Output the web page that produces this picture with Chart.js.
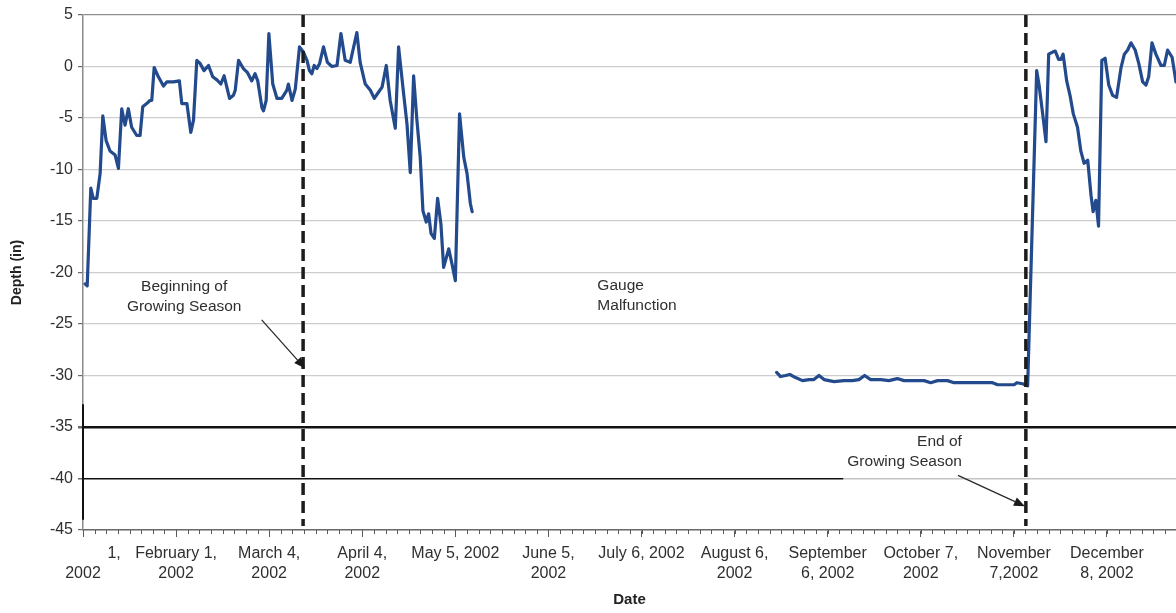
<!DOCTYPE html>
<html>
<head>
<meta charset="utf-8">
<script src="https://cdn.jsdelivr.net/npm/chart.js@4/dist/chart.umd.min.js"></script>
<style>
  html, body { margin: 0; padding: 0; background: #fff; }
  canvas { display: block; }
</style>
</head>
<body>
<canvas id="chart" width="1176" height="613"></canvas>
<script>
// Water-table depth record for 2002. Days are counted from January 1, 2002 (day 0).
const dayOfYear = [
  0.7, 1.4, 2.6, 3.4, 4.6, 5.7, 6.6, 7.7, 9.0, 10.7, 11.8, 12.9, 14.0, 15.1, 16.2, 17.9, 19.0,
  19.9, 21.2, 22.3, 22.9, 23.7, 25.1, 26.8, 27.9, 30.1, 32.1, 32.9, 34.6, 35.9, 36.8, 37.9, 39.0,
  40.3, 41.8, 43.2, 44.6, 45.9, 47.0, 48.8, 50.1, 50.7, 51.8, 53.4, 54.8, 56.2, 57.3, 58.2, 59.6,
  60.1, 61.0, 61.9, 63.2, 64.6, 66.2, 67.9, 68.4, 69.6, 70.7, 72.1, 73.4, 74.6, 75.4, 76.2, 77.0,
  77.9, 78.8, 80.1, 81.4, 82.9, 84.6, 85.9, 87.3, 89.0, 91.2, 92.3, 94.0, 95.7, 97.0, 98.4, 99.6,
  101.0, 102.3, 104.0, 105.1, 106.8, 107.9, 109.0, 110.1, 111.2, 112.3, 113.2, 114.3, 115.1, 115.9,
  117.0, 118.1, 119.2, 120.1, 121.8, 122.9, 124.0, 125.4, 126.8, 127.9, 129.0, 129.6,
  180,
  231.0, 232.3, 234.0, 235.4, 237.3, 239.6, 241.8, 243.4, 245.1, 246.8, 250.1, 253.4, 256.2, 258.4,
  260.3, 262.3, 265.7, 268.4, 271.2, 273.4, 276.8, 280.1, 282.3, 284.6, 287.9, 290.1, 296.8, 302.9,
  304.6, 310.1, 311.0, 312.9, 314.6, 317.6, 318.4, 319.6, 320.7, 321.6, 322.9, 323.8, 324.9, 325.7,
  326.4, 327.6, 328.7, 329.8, 331.2, 332.3, 333.4, 334.6, 335.7, 336.4, 337.3, 338.2, 339.3, 340.4,
  341.6, 342.9, 344.2, 345.7, 346.8, 347.9, 349.0, 350.4, 351.6, 352.9, 354.0, 354.9, 356.0, 357.3,
  359.0, 360.1, 361.2, 362.7, 364.0
];
const depthIn = [
  -21.1, -21.3, -11.8, -12.8, -12.8, -10.4, -4.8, -7.2, -8.2, -8.6, -9.9, -4.1, -5.7, -4.1, -5.9, -6.7, -6.7,
  -3.9, -3.6, -3.3, -3.3, -0.1, -1.0, -1.9, -1.5, -1.5, -1.4, -3.6, -3.6, -6.4, -5.2, 0.6, 0.3,
  -0.4, 0.1, -1.0, -1.3, -1.7, -0.9, -3.1, -2.8, -2.3, 0.6, -0.2, -0.6, -1.4, -0.7, -1.4, -4.0,
  -4.3, -3.3, 3.2, -1.7, -3.1, -3.1, -2.3, -1.7, -3.3, -2.2, 1.9, 1.4, 0.6, -0.4, -0.7, 0.1,
  -0.2, 0.3, 1.9, 0.4, 0.0, 0.1, 3.2, 0.6, 0.4, 3.3, 0.4, -1.7, -2.3, -3.1, -2.5, -2.0,
  0.1, -3.3, -6.0, 1.9, -2.7, -5.6, -10.3, -0.9, -5.2, -8.8, -14.0, -15.1, -14.3, -16.2,
  -16.7, -12.8, -15.3, -19.5, -17.7, -19.2, -20.8, -4.6, -8.8, -10.4, -13.3, -14.1,
  null,
  -29.7, -30.1, -30.0, -29.9, -30.2, -30.5, -30.4, -30.4, -30.0, -30.4, -30.6, -30.5, -30.5, -30.4,
  -30.0, -30.4, -30.4, -30.5, -30.3, -30.5, -30.5, -30.5, -30.7, -30.5, -30.5, -30.7, -30.7, -30.7,
  -30.9, -30.9, -30.7, -30.8, -31.0, -0.4, -1.8, -4.6, -7.3, 1.2, 1.4, 1.5, 0.7, 0.7,
  1.2, -1.4, -2.8, -4.6, -5.9, -8.2, -9.4, -9.1, -12.5, -14.1, -13.0, -15.5, 0.6, 0.8,
  -1.8, -2.8, -3.0, -0.1, 1.2, 1.6, 2.3, 1.6, 0.3, -1.5, -1.8, -1.0, 2.3, 1.2,
  0.1, 0.1, 1.6, 0.9, -1.5
];

// Labelled date ticks, one every 31 days
const tickDays = [0, 31, 62, 93, 124, 155, 186, 217, 248, 279, 310, 341];
const tickLabels = [
  ['              1,', '2002'],
  ['February 1,', '2002'],
  ['March 4,', '2002'],
  ['April 4,', '2002'],
  ['May 5, 2002'],
  ['June 5,', '2002'],
  ['July 6, 2002'],
  ['August 6,', '2002'],
  ['September', '6, 2002'],
  ['October 7,', '2002'],
  ['November', '7,2002'],
  ['December', '8, 2002']
];
const growingSeasonDays = [73.3, 314];

const FONT = '"Liberation Sans", Arial, sans-serif';
const TEXT = '#2f2f2f';

const notes = [
  { lines: ['Beginning of', 'Growing Season'], day: 33.7, depth: -21.4, align: 'center' },
  { lines: ['Gauge', 'Malfunction'], day: 171.3, depth: -21.3, align: 'left' },
  { lines: ['End of', 'Growing Season'], day: 292.7, depth: -36.4, align: 'right' }
];
const arrows = [
  { from: [59.5, -24.6], to: [73.9, -29.3] },
  { from: [291.4, -39.7], to: [313.7, -42.7] }
];

const seasonAndNotes = {
  id: 'seasonAndNotes',
  afterDatasetsDraw(chart) {
    const { ctx, chartArea, scales: { x, y } } = chart;
    ctx.save();
    // growing season boundaries
    ctx.strokeStyle = '#1c1c1c';
    ctx.lineWidth = 3.5;
    ctx.setLineDash([12, 6]);
    growingSeasonDays.forEach(d => {
      const px = x.getPixelForValue(d);
      ctx.beginPath();
      ctx.moveTo(px, chartArea.top);
      ctx.lineTo(px, chartArea.bottom - 4);
      ctx.stroke();
    });
    ctx.setLineDash([]);

    // text notes
    ctx.fillStyle = TEXT;
    ctx.font = '15.5px ' + FONT;
    ctx.textBaseline = 'middle';
    notes.forEach(n => {
      ctx.textAlign = n.align;
      const px = x.getPixelForValue(n.day);
      const py = y.getPixelForValue(n.depth);
      n.lines.forEach((t, i) => ctx.fillText(t, px, py + i * 20));
    });

    // arrows
    ctx.strokeStyle = '#2a2a2a';
    ctx.fillStyle = '#1a1a1a';
    ctx.lineWidth = 1.3;
    arrows.forEach(a => {
      const x0 = x.getPixelForValue(a.from[0]), y0 = y.getPixelForValue(a.from[1]);
      const x1 = x.getPixelForValue(a.to[0]), y1 = y.getPixelForValue(a.to[1]);
      const ang = Math.atan2(y1 - y0, x1 - x0);
      const len = 11, half = 4.5;
      const bx = x1 - len * Math.cos(ang), by = y1 - len * Math.sin(ang);
      ctx.beginPath();
      ctx.moveTo(x0, y0);
      ctx.lineTo(bx, by);
      ctx.stroke();
      ctx.beginPath();
      ctx.moveTo(x1, y1);
      ctx.lineTo(bx + half * Math.sin(ang), by - half * Math.cos(ang));
      ctx.lineTo(bx - half * Math.sin(ang), by + half * Math.cos(ang));
      ctx.closePath();
      ctx.fill();
    });
    ctx.restore();
  },
  afterDraw(chart) {
    // minor tick marks on the date axis, eight per labelled interval
    const { ctx, chartArea, scales: { x, y } } = chart;
    ctx.save();
    ctx.strokeStyle = '#5a5a5a';
    ctx.lineWidth = 1;
    for (let d = 0; d <= x.max + 0.01; d += 31 / 8) {
      const px = Math.round(x.getPixelForValue(d)) + 0.5;
      ctx.beginPath();
      ctx.moveTo(px, x.top);
      ctx.lineTo(px, x.top + 4);
      ctx.stroke();
    }
    // darker stretch of the depth axis line
    ctx.strokeStyle = '#111';
    ctx.lineWidth = 2;
    ctx.beginPath();
    ctx.moveTo(chartArea.left, y.getPixelForValue(-32.8));
    ctx.lineTo(chartArea.left, y.getPixelForValue(-44));
    ctx.stroke();
    ctx.restore();
  }
};

const points = dayOfYear.map((d, i) => ({ x: d, y: depthIn[i] }));

new Chart(document.getElementById('chart'), {
  type: 'line',
  data: {
    datasets: [{
      data: points,
      borderColor: '#234a8c',
      borderWidth: 3.2,
      pointRadius: 0,
      tension: 0,
      spanGaps: false,
      borderJoinStyle: 'round',
      borderCapStyle: 'round'
    }]
  },
  options: {
    responsive: false,
    animation: false,
    devicePixelRatio: 1,
    layout: { padding: { top: 15, right: 0, left: 0, bottom: 0 } },
    plugins: { legend: { display: false }, tooltip: { enabled: false } },
    scales: {
      x: {
        type: 'linear',
        min: 0,
        max: 364,
        afterFit(s) { s.height = 83; },
        afterBuildTicks(s) { s.ticks = tickDays.map(v => ({ value: v })); },
        ticks: {
          autoSkip: false,
          maxRotation: 0,
          padding: 7,
          color: TEXT,
          font: { family: FONT, size: 16, lineHeight: 1.25 },
          callback(value) {
            const i = tickDays.indexOf(value);
            return i >= 0 ? tickLabels[i] : '';
          }
        },
        grid: { drawOnChartArea: false, drawTicks: true, tickLength: 7, tickColor: '#5a5a5a' },
        border: { color: '#6a6a6a', width: 1.5 },
        title: {
          display: true,
          text: 'Date',
          color: '#222',
          font: { family: FONT, size: 15, weight: 'bold' },
          padding: { top: 4, bottom: 4 }
        }
      },
      y: {
        min: -45,
        max: 5,
        afterFit(s) { s.width = 83; },
        ticks: {
          stepSize: 5,
          padding: 5,
          color: TEXT,
          font: { family: FONT, size: 16 }
        },
        grid: {
          tickLength: 5,
          tickColor: '#6a6a6a',
          color(ctx) {
            const v = ctx.tick && ctx.tick.value;
            if (v === -35) return '#111';
            if (v === -40) {
              const area = ctx.chart.chartArea;
              if (!area) return '#111';
              const g = ctx.chart.ctx.createLinearGradient(area.left, 0, area.right, 0);
              const cut = (ctx.chart.scales.x.getPixelForValue(253) - area.left) / (area.right - area.left);
              g.addColorStop(0, '#111');
              g.addColorStop(cut, '#111');
              g.addColorStop(Math.min(1, cut + 0.001), '#c4c4c4');
              g.addColorStop(1, '#c4c4c4');
              return g;
            }
            if (v === 5) return '#8f8f8f';
            return '#cdcdcd';
          },
          lineWidth(ctx) {
            const v = ctx.tick && ctx.tick.value;
            if (v === -35) return 2.5;
            if (v === -40) return 1.5;
            return 1.2;
          }
        },
        border: { color: '#8a8a8a', width: 1.5 },
        title: {
          display: true,
          text: 'Depth (in)',
          color: '#222',
          font: { family: FONT, size: 14, weight: 'bold' },
          padding: { top: 9, bottom: 4 }
        }
      }
    }
  },
  plugins: [seasonAndNotes]
});
</script>
</body>
</html>
